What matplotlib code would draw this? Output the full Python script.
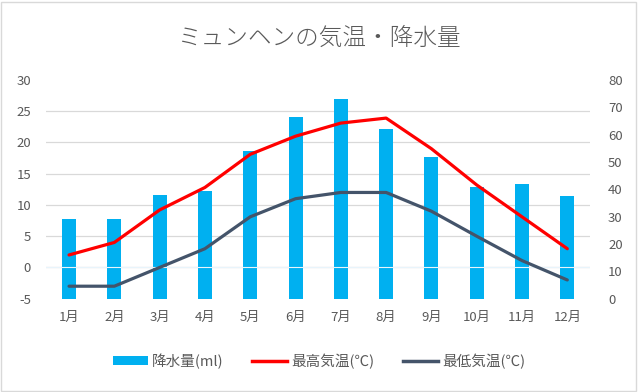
import matplotlib
matplotlib.use("Agg")
import matplotlib.pyplot as plt
from matplotlib.patches import Rectangle, Patch
from matplotlib.lines import Line2D
from matplotlib.ticker import LinearLocator
import numpy as np

plt.rcParams['font.family'] = ['Noto Sans CJK JP', 'DejaVu Sans']
plt.rcParams['axes.unicode_minus'] = False

months = ['1月', '2月', '3月', '4月', '5月', '6月', '7月', '8月', '9月', '10月', '11月', '12月']
precip = [29, 29, 38, 39.5, 54, 66.5, 73, 62, 52, 41, 42, 37.5]
temp_high = [2, 4, 9.2, 12.8, 18.1, 21, 23.1, 23.9, 19, 13.2, 8.1, 3]
temp_low = [-3, -3, 0, 3, 8.1, 11, 12, 12, 9, 5, 1.1, -2]

TXT = '#595959'
GRID = '#d9d9d9'

fig = plt.figure(figsize=(6.38, 3.92), dpi=100)
fig.patches.append(Rectangle((0.002, 0.003), 0.995, 0.993, transform=fig.transFigure,
                             fill=False, edgecolor=GRID, linewidth=1))

ax_t = fig.add_axes([0.0727, 0.238, 0.852, 0.558])
ax_p = ax_t.twinx()
ax_p.set_zorder(0)
ax_t.set_zorder(1)
ax_t.patch.set_visible(False)

x = np.arange(len(months))

## precipitation bars (right axis)
ax_p.bar(x, precip, width=0.31, color='#00B0F0', zorder=2)
ax_p.set_ylim(0, 80)
ax_p.set_yticks(np.arange(0, 81, 10))
ax_p.yaxis.set_minor_locator(LinearLocator(8))
ax_p.grid(which='minor', axis='y', color=GRID, linewidth=0.9)
ax_p.set_axisbelow(True)

## temperature lines (left axis)
ax_t.axhline(0, color='#e8f4fb', linewidth=0.8, zorder=0.5)
ax_t.plot(x, temp_high, color='#FF0000', linewidth=2.3, solid_capstyle='round')
ax_t.plot(x, temp_low, color='#44546A', linewidth=2.3, solid_capstyle='round')
ax_t.set_ylim(-5, 30)
ax_t.set_yticks(np.arange(-5, 31, 5))
ax_t.set_xlim(-0.5, len(months) - 0.5)
ax_t.set_xticks(x)
ax_t.set_xticklabels(months)

for a in (ax_t, ax_p):
    for s in a.spines.values():
        s.set_visible(False)
    a.tick_params(length=0, which='both', labelsize=9.5, colors=TXT)
ax_t.tick_params(axis='y', pad=11)
ax_t.tick_params(axis='x', pad=9)
ax_p.tick_params(axis='y', pad=13)

fig.text(0.5, 1 - 38 / 392, 'ミュンヘンの気温・降水量', ha='center', va='center',
         fontsize=17, color=TXT, fontweight='light')

handles = [
    Patch(facecolor='#00B0F0', label='降水量(ml)'),
    Line2D([0], [0], color='#FF0000', linewidth=2.5, label='最高気温(℃)'),
    Line2D([0], [0], color='#44546A', linewidth=2.5, label='最低気温(℃)'),
]
fig.legend(handles=handles, loc='center', bbox_to_anchor=(0.5, 1 - 361 / 392), ncol=3,
           frameon=False, fontsize=10.5, labelcolor=TXT, handlelength=2.4,
           handleheight=0.6, handletextpad=0.25, columnspacing=2.0)

fig.savefig('out.png', dpi=100)
